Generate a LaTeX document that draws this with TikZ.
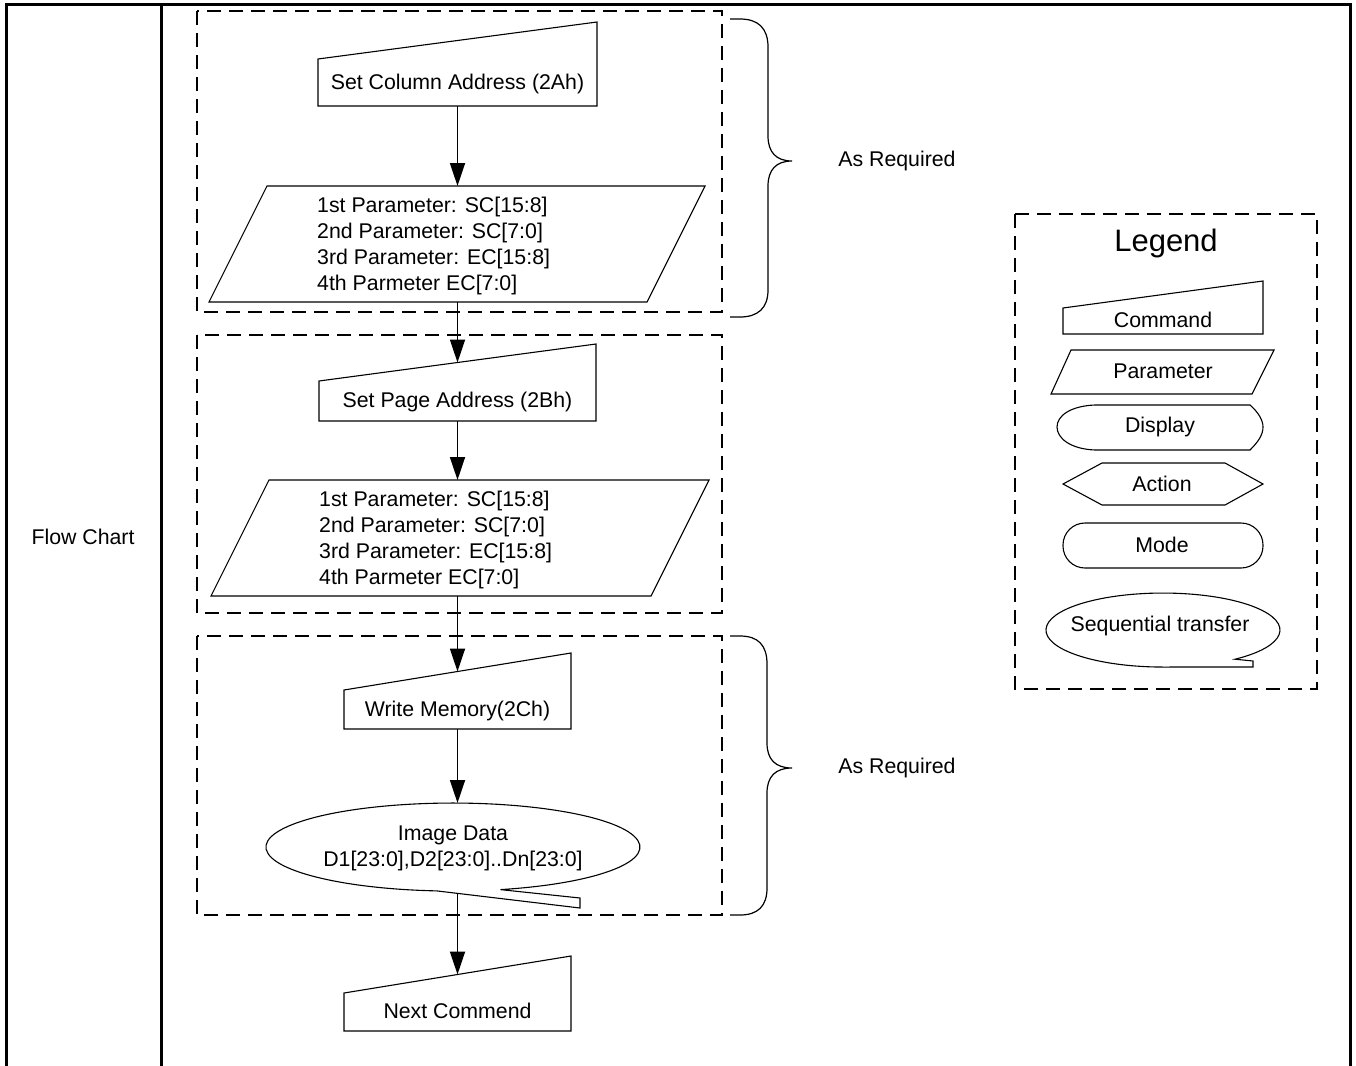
\documentclass[tikz,border=0pt]{standalone}
\usepackage{fontspec}
\setmainfont{Liberation Sans}
\usetikzlibrary{arrows.meta}
\begin{document}
\begin{tikzpicture}[x=1pt,y=-1pt,
  shp/.style={draw=black, line width=1.1pt, line join=miter},
  frameline/.style={line width=3pt},
  dbox/.style={draw, line width=2pt, dash pattern=on 14pt off 8pt},
  bracel/.style={draw, line width=1.2pt},
  arr/.style={line width=1.8pt, -{Triangle[length=23pt,width=15pt]}},
  txt/.style={font=\fontsize{21.3}{26}\selectfont, inner sep=0pt},
  ptxt/.style={txt, align=left, anchor=west},
  ]
\useasboundingbox (0,0) rectangle (1356,1065);
\fill[white] (0,0) rectangle (1356,1065);

% outer frame
\draw[frameline] (6,1066) -- (6,5) -- (1350,5) -- (1350,1066);
\draw[frameline] (161,5) -- (161,1066);
\node[txt] (fc) at (83,537) {Flow Chart};

% dashed groups
\draw[dbox] (197,11) rectangle (722,312);
\draw[dbox] (197,335) rectangle (722,613);
\draw[dbox] (197,636) rectangle (722,915);

% command 1
\draw[shp] (318,106) -- (318,59) -- (597,22) -- (597,106) -- cycle;
\node[txt] (c1) at (457.5,84) {Set Column Address (2Ah)};
\coordinate (c1b) at (457.5,106);

% parameter 1
\draw[shp] (267,186) -- (705,186) -- (647,302) -- (209,302) -- cycle;
\node[ptxt] (p1) at (317,246) {1st Parameter: SC[15:8]\\2nd Parameter: SC[7:0]\\3rd Parameter: EC[15:8]\\4th Parmeter EC[7:0]};
\coordinate (p1t) at (457.5,186);
\coordinate (p1b) at (457.5,302);

% command 2
\draw[shp] (319,421) -- (319,381) -- (596,344) -- (596,421) -- cycle;
\node[txt] (c2) at (457.5,402) {Set Page Address (2Bh)};
\coordinate (c2t) at (457.5,362.5);
\coordinate (c2b) at (457.5,421);

% parameter 2
\draw[shp] (269,480) -- (709,480) -- (651,596) -- (211,596) -- cycle;
\node[ptxt] (p2) at (319,540) {1st Parameter: SC[15:8]\\2nd Parameter: SC[7:0]\\3rd Parameter: EC[15:8]\\4th Parmeter EC[7:0]};
\coordinate (p2t) at (457.5,480);
\coordinate (p2b) at (457.5,596);

% command 3
\draw[shp] (344,729) -- (344,690) -- (571,653) -- (571,729) -- cycle;
\node[txt] (c3) at (457.5,711) {Write Memory(2Ch)};
\coordinate (c3t) at (457.5,671.5);
\coordinate (c3b) at (457.5,729);

% image data (sequential transfer)
\draw[shp] (500.4,889.6) arc[start angle=75.3, end angle=-265, x radius=187, y radius=44]
  -- (580,908) -- (580,898) -- cycle;
\node[txt, align=center] (img) at (453,848) {Image Data\\D1[23:0],D2[23:0]..Dn[23:0]};
\coordinate (idt) at (457.5,803);
\coordinate (idb) at (457.5,893);

% next command
\draw[shp] (344,1031) -- (344,993) -- (571,956) -- (571,1031) -- cycle;
\node[txt] (nc) at (457.5,1011) {Next Commend};
\coordinate (nct) at (457.5,974.5);

% connectors
\draw[arr] (c1b) -- (p1t);
\draw[arr] (p1b) -- (c2t);
\draw[arr] (c2b) -- (p2t);
\draw[arr] (p2b) -- (c3t);
\draw[arr] (c3b) -- (idt);
\draw[arr] (idb) -- (nct);

% braces
\draw[bracel] (730,19) -- (740,19) .. controls (758,19) and (768,28) .. (768,47)
  -- (768,136) .. controls (768,152) and (776,161) .. (792,161)
  .. controls (776,161) and (768,170) .. (768,186)
  -- (768,290) .. controls (768,308) and (758,317) .. (740,317) -- (730,317);
\node[txt] (ar1) at (897,161) {As Required};

\draw[bracel] (730,636) -- (740,636) .. controls (758,636) and (767,645) .. (767,664)
  -- (767,743) .. controls (767,759) and (775,768) .. (792,768)
  .. controls (775,768) and (767,777) .. (767,793)
  -- (767,888) .. controls (767,906) and (758,915) .. (740,915) -- (730,915);
\node[txt] (ar2) at (897,768) {As Required};

% legend
\draw[dbox] (1015,214) rectangle (1317,689);
\node[font=\fontsize{31}{36}\selectfont, inner sep=0pt] (lg) at (1166,243) {Legend};

\draw[shp] (1063,334) -- (1063,308) -- (1263,281) -- (1263,334) -- cycle;
\node[txt] (lcmd) at (1163,320) {Command};

\draw[shp] (1071,350) -- (1274,350) -- (1252,394) -- (1051,394) -- cycle;
\node[txt] (lpar) at (1163,371) {Parameter};

\draw[shp] (1095,405) -- (1250,405) .. controls (1258,412) and (1263,420) .. (1263,427)
  .. controls (1263,435) and (1258,442) .. (1250,450) -- (1095,450)
  .. controls (1070,449) and (1057,438) .. (1057,427)
  .. controls (1057,416) and (1070,406) .. (1095,405) -- cycle;
\node[txt] (ldis) at (1160,427) {Display};

\draw[shp] (1063,484) -- (1102,463) -- (1225,463) -- (1263,484) -- (1225,505) -- (1102,505) -- cycle;
\node[txt] (lact) at (1162,484) {Action};

\draw[shp, rounded corners=22pt] (1063,523) rectangle (1263,568);
\node[txt] (lmod) at (1162,545) {Mode};

\draw[shp] (1235,659.2) arc[start angle=52, end angle=-270, x radius=117, y radius=37]
  -- (1253,667) -- (1253,661) -- cycle;
\node[txt] (lseq) at (1160,626) {Sequential transfer};
\end{tikzpicture}
\end{document}
